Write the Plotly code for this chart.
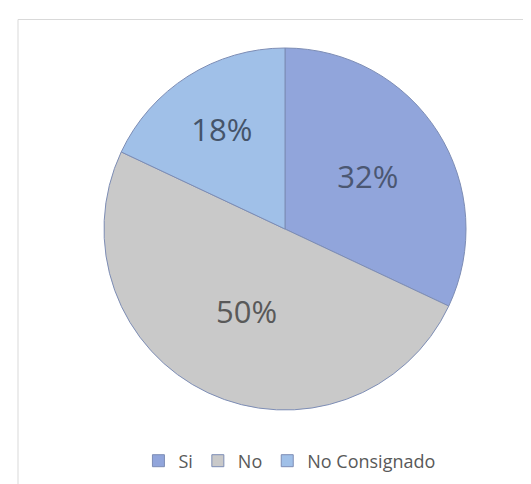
import plotly.graph_objects as go

categories = ["Si", "No", "No Consignado"]
values = [32, 50, 18]
slice_colors = ["#91a5db", "#c9c9c9", "#a0c0e8"]
text_colors = ["#4b5772", "#595959", "#45546a"]

W, H = 531, 484
cx, cy, R = 277, 221, 181

fig = go.Figure(go.Pie(
    labels=categories,
    values=values,
    sort=False,
    direction="clockwise",
    rotation=0,
    textinfo="percent",
    textposition="inside",
    insidetextorientation="horizontal",
    textfont=dict(family="Open Sans", size=31, color=text_colors),
    marker=dict(colors=slice_colors, line=dict(color="#7d8db5", width=1)),
    domain=dict(x=[(cx - R) / W, (cx + R) / W], y=[1 - (cy + R) / H, 1 - (cy - R) / H]),
    hoverinfo="label+percent",
))

fig.update_layout(
    width=W, height=H,
    margin=dict(l=0, r=0, t=0, b=0),
    paper_bgcolor="white",
    plot_bgcolor="white",
    showlegend=True,
    legend=dict(
        orientation="h",
        x=0.53, xanchor="center",
        y=1 - 453 / H, yanchor="middle",
        font=dict(family="Open Sans", size=18, color="#595959"),
        itemwidth=30,
        traceorder="normal",
    ),
    shapes=[dict(
        type="rect", xref="paper", yref="paper",
        x0=10 / W, x1=1.02, y0=-0.02, y1=1 - 11.5 / H,
        line=dict(color="#d9d9d9", width=1),
        fillcolor="rgba(0,0,0,0)",
        layer="below",
    )],
)

fig.write_html("out.html")
